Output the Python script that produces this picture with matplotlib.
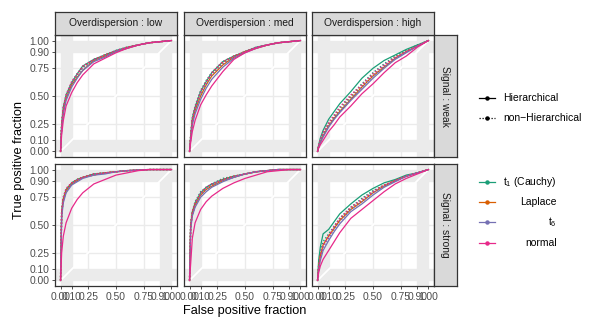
import matplotlib
matplotlib.use("Agg")
import matplotlib.pyplot as plt

plt.rcParams['font.family'] = ['Liberation Sans', 'DejaVu Sans']
plt.rcParams['mathtext.fontset'] = 'custom'
plt.rcParams['mathtext.rm'] = 'Liberation Sans'

# false positive fractions where the curves were read
fpr = [0, .01, .025, .05, .1, .15, .2, .3, .4, .5, .6, .7, .8, .9, 1]

method_labels = [r"$\mathregular{t_1}$ (Cauchy)", "Laplace", r"$\mathregular{t_6}$", "normal"]
colors = ["#1B9E77", "#D95F02", "#7570B3", "#E7298A"]
model_labels = ["Hierarchical", "non\u2212Hierarchical"]
overdispersion = ["low", "med", "high"]
signal = ["weak", "strong"]
breaks = [0, .1, .25, .5, .75, .9, 1]
break_labels = ["0.00", "0.10", "0.25", "0.50", "0.75", "0.90", "1.00"]

# true positive fractions, rows: t1, Laplace, t6, normal
weak_low_h = [
    [0, .25, .40, .51, .62, .70, .77, .83, .87, .91, .94, .96, .98, .99, 1],
    [0, .22, .37, .48, .60, .67, .73, .82, .86, .90, .93, .96, .98, .99, 1],
    [0, .20, .34, .46, .58, .66, .73, .81, .85, .90, .93, .96, .98, .99, 1],
    [0, .15, .28, .41, .53, .62, .69, .79, .84, .89, .93, .96, .98, .99, 1],
]
weak_low_n = [
    [0, .24, .39, .50, .62, .70, .76, .83, .87, .91, .94, .96, .98, .99, 1],
    [0, .23, .38, .50, .61, .69, .76, .82, .87, .90, .94, .96, .98, .99, 1],
    [0, .22, .37, .49, .61, .69, .75, .82, .86, .90, .93, .96, .98, .99, 1],
    [0, .25, .40, .51, .63, .70, .77, .83, .87, .91, .94, .96, .98, .99, 1],
]
weak_med_h = [
    [0, .14, .30, .40, .54, .63, .71, .81, .86, .90, .94, .96, .98, .99, 1],
    [0, .12, .27, .37, .50, .60, .68, .78, .85, .90, .93, .96, .98, .99, 1],
    [0, .11, .24, .34, .47, .57, .65, .76, .84, .89, .93, .96, .98, .99, 1],
    [0, .08, .18, .28, .42, .51, .59, .72, .83, .89, .93, .96, .98, .99, 1],
]
weak_med_n = [
    [0, .14, .30, .41, .55, .64, .71, .81, .86, .90, .94, .96, .98, .99, 1],
    [0, .13, .28, .39, .53, .62, .70, .80, .86, .90, .93, .96, .98, .99, 1],
    [0, .12, .27, .38, .52, .61, .69, .79, .85, .90, .93, .96, .98, .99, 1],
    [0, .14, .29, .40, .54, .63, .71, .81, .86, .90, .94, .96, .98, .99, 1],
]
weak_high_h = [
    [0, .06, .12, .19, .29, .36, .43, .54, .66, .75, .82, .87, .92, .96, 1],
    [0, .04, .08, .14, .23, .30, .36, .47, .58, .68, .76, .84, .90, .95, 1],
    [0, .04, .08, .13, .22, .29, .35, .46, .56, .66, .75, .83, .89, .95, 1],
    [0, .03, .06, .10, .18, .24, .31, .41, .52, .61, .71, .80, .86, .94, 1],
]
weak_high_n = [
    [0, .05, .10, .16, .25, .32, .39, .50, .61, .71, .79, .86, .91, .96, 1],
    [0, .05, .09, .15, .24, .31, .37, .49, .59, .69, .77, .85, .90, .95, 1],
    [0, .04, .09, .14, .23, .30, .36, .48, .58, .68, .77, .84, .90, .95, 1],
    [0, .06, .11, .17, .26, .33, .40, .51, .60, .70, .78, .85, .90, .95, 1],
]
strong_low_h = [
    [0, .62, .74, .82, .88, .91, .93, .96, .97, .98, .99, .995, 1, 1, 1],
    [0, .60, .73, .81, .87, .90, .93, .95, .97, .98, .99, .995, 1, 1, 1],
    [0, .57, .70, .79, .86, .89, .92, .95, .96, .98, .99, .995, 1, 1, 1],
    [0, .25, .40, .52, .65, .73, .79, .87, .91, .95, .97, .99, 1, 1, 1],
]
strong_low_n = [
    [0, .63, .75, .82, .88, .91, .93, .96, .97, .98, .99, .995, 1, 1, 1],
    [0, .62, .74, .82, .88, .91, .93, .96, .97, .98, .99, .995, 1, 1, 1],
    [0, .60, .72, .80, .87, .90, .93, .95, .97, .98, .99, .995, 1, 1, 1],
    [0, .63, .75, .83, .88, .91, .93, .96, .97, .98, .99, .995, 1, 1, 1],
]
strong_med_h = [
    [0, .50, .62, .70, .79, .84, .87, .91, .94, .96, .98, .99, 1, 1, 1],
    [0, .48, .60, .68, .77, .82, .85, .90, .93, .96, .98, .99, 1, 1, 1],
    [0, .46, .58, .66, .75, .80, .84, .89, .93, .96, .98, .99, 1, 1, 1],
    [0, .15, .38, .52, .64, .71, .76, .83, .88, .92, .95, .98, .99, 1, 1],
]
strong_med_n = [
    [0, .51, .62, .71, .80, .84, .87, .92, .94, .96, .98, .99, 1, 1, 1],
    [0, .49, .61, .69, .78, .83, .86, .91, .94, .96, .98, .99, 1, 1, 1],
    [0, .47, .59, .67, .77, .82, .86, .90, .93, .96, .98, .99, 1, 1, 1],
    [0, .50, .62, .70, .79, .84, .87, .91, .94, .96, .98, .99, 1, 1, 1],
]
strong_high_h = [
    [0, .18, .30, .42, .46, .53, .60, .69, .77, .83, .88, .91, .95, .97, 1],
    [0, .12, .22, .32, .40, .47, .54, .64, .71, .79, .85, .90, .94, .97, 1],
    [0, .10, .18, .27, .36, .44, .51, .62, .69, .77, .84, .89, .94, .97, 1],
    [0, .07, .13, .19, .27, .35, .43, .56, .64, .72, .80, .87, .92, .96, 1],
]
strong_high_n = [
    [0, .14, .25, .35, .42, .49, .56, .66, .74, .81, .86, .90, .94, .97, 1],
    [0, .12, .22, .32, .40, .47, .55, .65, .72, .80, .86, .90, .94, .97, 1],
    [0, .11, .20, .30, .38, .46, .53, .64, .71, .79, .85, .90, .94, .97, 1],
    [0, .12, .22, .32, .40, .49, .56, .66, .73, .80, .86, .90, .94, .97, 1],
]

panels = {
    ("weak", "low"): (weak_low_h, weak_low_n),
    ("weak", "med"): (weak_med_h, weak_med_n),
    ("weak", "high"): (weak_high_h, weak_high_n),
    ("strong", "low"): (strong_low_h, strong_low_n),
    ("strong", "med"): (strong_med_h, strong_med_n),
    ("strong", "high"): (strong_high_h, strong_high_n),
}

W, H = 594, 328
fig = plt.figure(figsize=(W / 100, H / 100), dpi=100)

col_left = [55, 184, 312]
row_top = [35, 164]
pw, ph = 122, 122
band = '#EBEBEB'
dark = '#333333'


def px_rect(x, y, w, h):
    return [x / W, 1 - (y + h) / H, w / W, h / H]


for r, sig in enumerate(signal):
    for c, od in enumerate(overdispersion):
        ax = fig.add_axes(px_rect(col_left[c], row_top[r], pw, ph))
        ax.set_xlim(-0.05, 1.05)
        ax.set_ylim(-0.05, 1.05)
        # grid bands (dense minor breaks) and major grid
        ax.axvspan(0, 0.1, color=band, lw=0, zorder=0)
        ax.axvspan(0.9, 1.0, color=band, lw=0, zorder=0)
        ax.axhspan(0, 0.1, color=band, lw=0, zorder=0)
        ax.axhspan(0.9, 1.0, color=band, lw=0, zorder=0)
        for b in breaks:
            ax.axvline(b, color=band, lw=1.0, zorder=0.5)
            ax.axhline(b, color=band, lw=1.0, zorder=0.5)
        ax.plot([0, 1], [0, 1], color='white', lw=1.3, zorder=1)

        hier, nonhier = panels[(sig, od)]
        for k in range(4):
            ax.plot(fpr, hier[k], color=colors[k], lw=0.9, zorder=2)
            ax.plot(fpr, nonhier[k], color=colors[k], lw=1.0,
                    linestyle=(0, (1, 1.4)), zorder=2)

        ax.set_xticks(breaks)
        ax.set_yticks(breaks)
        ax.tick_params(length=2.5, width=0.6, color=dark, labelsize=7.4,
                       labelcolor='#4D4D4D', pad=1.5)
        if c == 0:
            ax.set_yticklabels(break_labels)
        else:
            ax.set_yticklabels([])
            ax.tick_params(axis='y', length=0)
        if r == 1:
            ax.set_xticklabels(break_labels)
        else:
            ax.set_xticklabels([])
            ax.tick_params(axis='x', length=0)
        for s in ax.spines.values():
            s.set_color(dark)
            s.set_linewidth(0.9)

        # strips
        if r == 0:
            sax = fig.add_axes(px_rect(col_left[c], 12, pw, 23))
            sax.set_facecolor('#D9D9D9')
            sax.set_xticks([])
            sax.set_yticks([])
            for s in sax.spines.values():
                s.set_color(dark)
                s.set_linewidth(0.9)
            sax.text(0.5, 0.5, "Overdispersion : " + od, ha='center', va='center',
                     fontsize=7.4, color='#1A1A1A', transform=sax.transAxes)
        if c == 2:
            sax = fig.add_axes(px_rect(434, row_top[r], 23, ph))
            sax.set_facecolor('#D9D9D9')
            sax.set_xticks([])
            sax.set_yticks([])
            for s in sax.spines.values():
                s.set_color(dark)
                s.set_linewidth(0.9)
            sax.text(0.5, 0.5, "Signal : " + sig, ha='center', va='center',
                     rotation=-90, fontsize=7.4, color='#1A1A1A',
                     transform=sax.transAxes)

fig.text(245 / W, 1 - 311 / H, "False positive fraction", ha='center', va='center',
         fontsize=9.2)
fig.text(19 / W, 1 - 160 / H, "True positive fraction", ha='center', va='center',
         rotation=90, fontsize=9.2)

# legends drawn in pixel coordinates
lax = fig.add_axes([0, 0, 1, 1])
lax.set_xlim(0, W)
lax.set_ylim(H, 0)
lax.axis('off')
lax.patch.set_alpha(0)

ys = [98, 118]
styles = ['-', (0, (1, 1.4))]
for y, lab, ls in zip(ys, model_labels, styles):
    lax.plot([479, 495], [y, y], color='black', lw=0.9, linestyle=ls)
    lax.plot([487], [y], 'o', color='black', ms=2.2)
    lax.text(503, y, lab, ha='left', va='center', fontsize=7.5)

ys = [182, 202, 222, 243]
for y, lab, col in zip(ys, method_labels, colors):
    lax.plot([479, 495], [y, y], color=col, lw=0.9)
    lax.plot([487], [y], 'o', color=col, ms=2.2)
    lax.text(557, y, lab, ha='right', va='center', fontsize=7.5)

fig.savefig("out.png", dpi=100)
